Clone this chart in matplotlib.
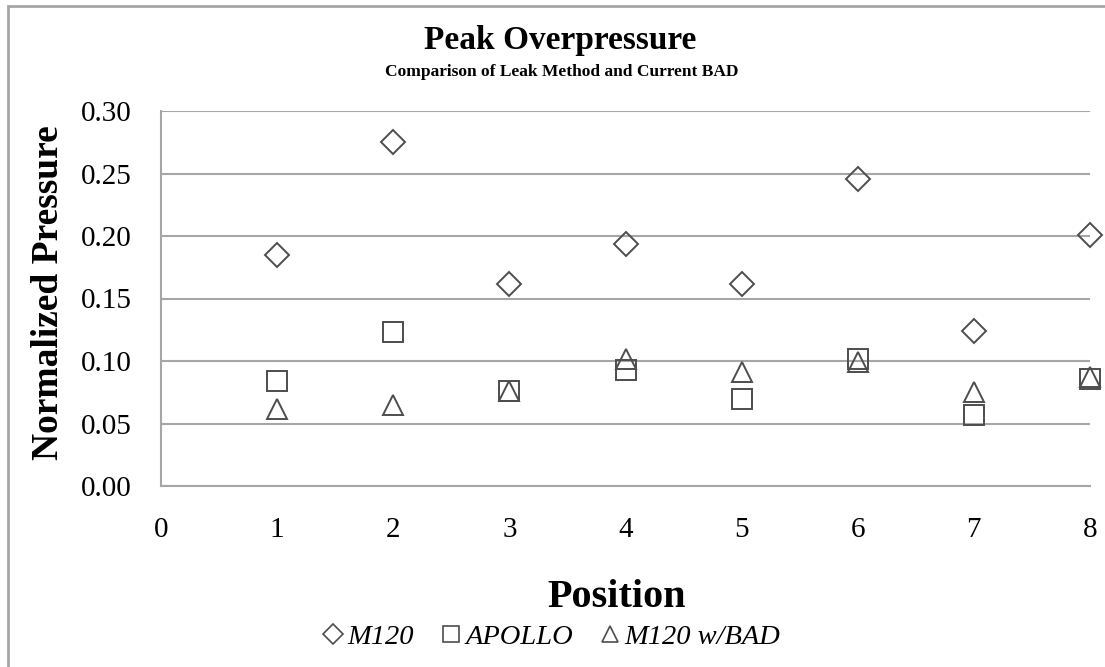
import numpy as np
import matplotlib
matplotlib.use('Agg')
from matplotlib import pyplot as plt
from matplotlib.lines import Line2D
from matplotlib.patches import Rectangle

plt.rcParams['font.family'] = ['Liberation Serif', 'DejaVu Serif']

positions = [1, 2, 3, 4, 5, 6, 7, 8]
m120 = [0.185, 0.275, 0.162, 0.194, 0.162, 0.246, 0.124, 0.201]
apollo = [0.084, 0.123, 0.076, 0.093, 0.070, 0.102, 0.057, 0.086]
m120_bad = [0.062, 0.065, 0.076, 0.102, 0.091, 0.099, 0.075, 0.087]

series_names = ['M120', 'APOLLO', 'M120 w/BAD']
yticks = [0.00, 0.05, 0.10, 0.15, 0.20, 0.25, 0.30]
xticks = [0, 1, 2, 3, 4, 5, 6, 7, 8]

edge = '#4d4d4d'
grid = '#a6a6a6'

fig = plt.figure(figsize=(11.05, 6.67), dpi=100)
ax = fig.add_axes([161 / 1105, 1 - 486 / 667, (1090 - 161) / 1105, (486 - 111) / 667])

styles = [('D', 12.5), ('s', 14), ('^', 14)]
for vals, (mk, ms) in zip([m120, apollo, m120_bad], styles):
    ax.plot(positions, vals, linestyle='none', marker=mk, markersize=ms,
            markerfacecolor='none', markeredgecolor=edge, markeredgewidth=1.4,
            clip_on=False, zorder=3)

ax.set_xlim(0, 8)
ax.set_ylim(0, 0.30)
ax.set_xticks(xticks)
ax.set_yticks(yticks)
ax.set_yticklabels([f'{v:.2f}' for v in yticks])
ax.tick_params(axis='both', length=0, labelsize=21)
ax.tick_params(axis='x', pad=22)
ax.tick_params(axis='y', pad=21)

ax.grid(axis='y', color=grid, linewidth=1.5)
ax.set_axisbelow(True)
for s in ['top', 'right']:
    ax.spines[s].set_visible(False)
for s in ['left', 'bottom']:
    ax.spines[s].set_color(grid)
    ax.spines[s].set_linewidth(1.5)

ax.set_ylabel('Normalized Pressure', fontsize=27, fontweight='bold', labelpad=11)
ax.set_xlabel('Position', fontsize=29, fontweight='bold', labelpad=26)
# Excel puts the titles slightly off the plot-area centre
ax.xaxis.label.set_x(0.49)
ax.yaxis.label.set_y(0.515)

fig.text(0.507, 1 - 41 / 667, 'Peak Overpressure', ha='center', va='center',
         fontsize=24, fontweight='bold')
fig.text(0.508, 1 - 72 / 667, 'Comparison of Leak Method and Current BAD',
         ha='center', va='center', fontsize=12.5, fontweight='bold')

handles = [Line2D([], [], linestyle='none', marker=mk, markersize=ms * 0.8,
                  markerfacecolor='none', markeredgecolor=edge, markeredgewidth=1.2)
           for mk, ms in styles]
fig.legend(handles, series_names, loc='center', bbox_to_anchor=(0.5, 1 - 637 / 667),
           ncol=3, frameon=False, prop={'style': 'italic', 'size': 20.5},
           handlelength=0.6, handletextpad=0.2, columnspacing=1.0)

fig.add_artist(Rectangle((8 / 1105, -0.1), 1.2, 0.1 + 1 - 6 / 667,
                         transform=fig.transFigure, fill=False,
                         edgecolor='#a6a6a6', linewidth=2))

fig.savefig('out.png', dpi=100, facecolor='white')
